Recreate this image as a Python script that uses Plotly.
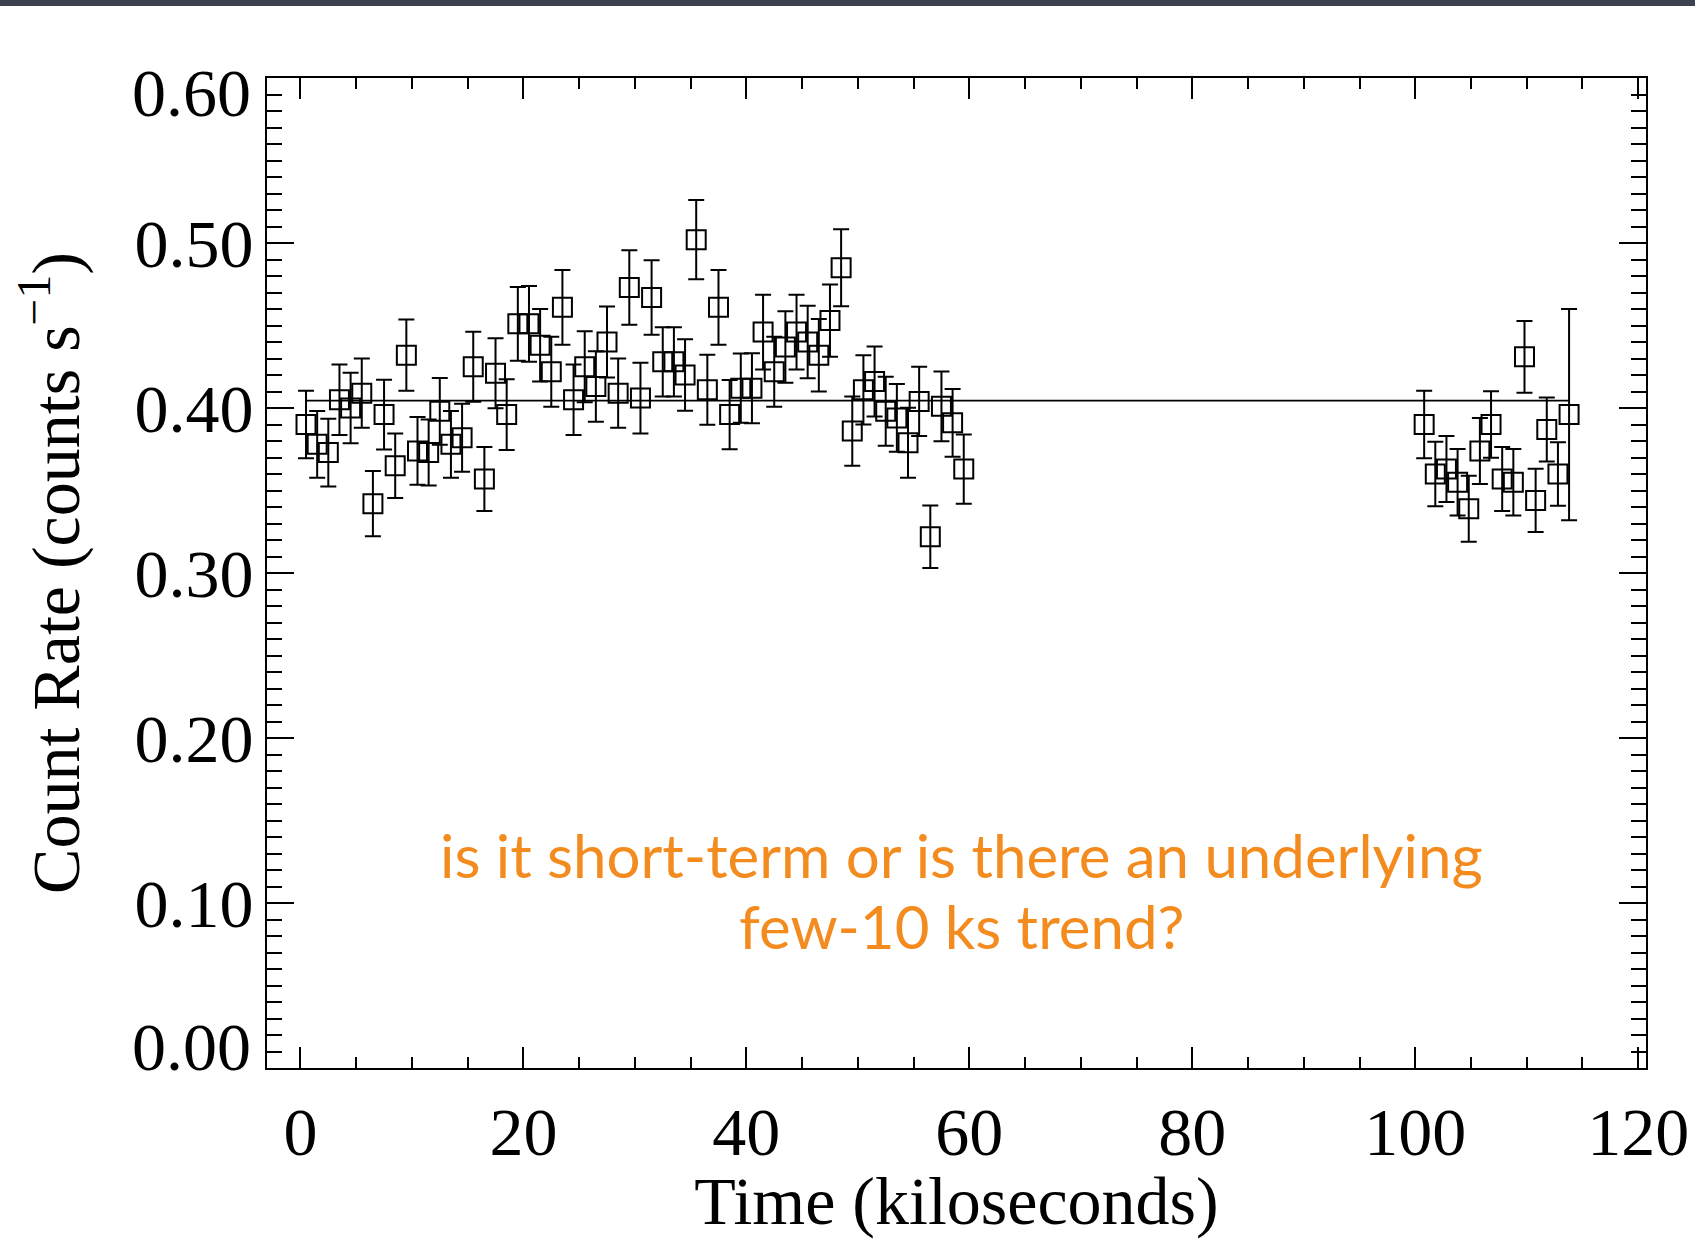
import plotly.graph_objects as go

# Light curve: 1 ks bins, two observation segments
time_ks = [
    0.5, 1.5, 2.5, 3.5, 4.5, 5.5, 6.5, 7.5, 8.5, 9.5,
    10.5, 11.5, 12.5, 13.5, 14.5, 15.5, 16.5, 17.5, 18.5, 19.5,
    20.5, 21.5, 22.5, 23.5, 24.5, 25.5, 26.5, 27.5, 28.5, 29.5,
    30.5, 31.5, 32.5, 33.5, 34.5, 35.5, 36.5, 37.5, 38.5, 39.5,
    40.5, 41.5, 42.5, 43.5, 44.5, 45.5, 46.5, 47.5, 48.5, 49.5,
    50.5, 51.5, 52.5, 53.5, 54.5, 55.5, 56.5, 57.5, 58.5, 59.5,
    100.8, 101.8, 102.8, 103.8, 104.8, 105.8, 106.8,
    107.8, 108.8, 109.8, 110.8, 111.8, 112.8, 113.8,
]
rate = [
    0.390, 0.378, 0.373, 0.405, 0.400, 0.409, 0.342, 0.396, 0.365, 0.432,
    0.374, 0.373, 0.398, 0.378, 0.382, 0.425, 0.357, 0.421, 0.396, 0.451,
    0.451, 0.438, 0.422, 0.461, 0.405, 0.425, 0.413, 0.440, 0.409, 0.473,
    0.406, 0.467, 0.428, 0.428, 0.420, 0.502, 0.411, 0.461, 0.396, 0.412,
    0.412, 0.446, 0.422, 0.437, 0.446, 0.440, 0.432, 0.453, 0.485, 0.386,
    0.411, 0.416, 0.398, 0.394, 0.379, 0.404, 0.322, 0.401, 0.391, 0.363,
    0.390, 0.360, 0.363, 0.355, 0.339, 0.374, 0.390,
    0.357, 0.355, 0.431, 0.344, 0.387, 0.360, 0.396,
]
rate_err = [
    0.0204, 0.0202, 0.0205, 0.0214, 0.0214, 0.0210, 0.0198, 0.0211, 0.0195, 0.0216,
    0.0205, 0.0200, 0.0202, 0.0202, 0.0206, 0.0212, 0.0194, 0.0212, 0.0214, 0.0224,
    0.0229, 0.0220, 0.0212, 0.0227, 0.0214, 0.0215, 0.0214, 0.0215, 0.0210, 0.0226,
    0.0214, 0.0226, 0.0210, 0.0210, 0.0217, 0.0240, 0.0212, 0.0227, 0.0210, 0.0210,
    0.0212, 0.0226, 0.0212, 0.0217, 0.0226, 0.0219, 0.0220, 0.0219, 0.0234, 0.0210,
    0.0210, 0.0212, 0.0209, 0.0205, 0.0212, 0.0210, 0.0189, 0.0211, 0.0205, 0.0210,
    0.0204, 0.0195, 0.0200, 0.0202, 0.0200, 0.0200, 0.0202,
    0.0194, 0.0202, 0.0217, 0.0192, 0.0194, 0.0192, 0.0640,
]
mean_rate = 0.4045

rate_ticks = [0.1, 0.2, 0.3, 0.4, 0.5]
rate_end_ticks = [0.6, 0.0]
x_title = "Time (kiloseconds)"
y_title = "Count Rate (counts s<sup>\u22121</sup>)"
note_lines = ["is it short-term or is there an underlying", "few-10 ks trend?"]

SERIF = "Liberation Serif"
INK = "black"
TICK_SIZE = 68

fig = go.Figure()

# mean count rate across the span of the data
fig.add_trace(go.Scatter(
    x=[time_ks[0], time_ks[-1]], y=[mean_rate, mean_rate],
    mode="lines", line=dict(color=INK, width=1.8),
    hoverinfo="skip", showlegend=False,
))

fig.add_trace(go.Scatter(
    x=time_ks, y=rate, mode="markers",
    marker=dict(symbol="square-open", size=19, color=INK, line=dict(width=2, color=INK)),
    error_y=dict(type="data", array=rate_err, color=INK, thickness=2, width=8),
    showlegend=False,
))

axis_common = dict(
    showline=True, linecolor=INK, linewidth=2, mirror="ticks",
    ticks="inside", tickcolor=INK, tickwidth=2,
    showgrid=False, zeroline=False, automargin=False,
    tickfont=dict(family=SERIF, size=TICK_SIZE, color=INK),
)

fig.update_xaxes(
    **axis_common,
    range=[-3.0, 120.7],
    tickmode="linear", tick0=0, dtick=20, ticklen=21,
    ticklabelstandoff=3,
    minor=dict(tick0=0, dtick=5, ticks="inside", ticklen=11, tickwidth=2, tickcolor=INK),
    title=dict(text=x_title, font=dict(family=SERIF, size=68, color=INK), standoff=16),
)

fig.update_yaxes(
    **axis_common,
    range=[0, 0.6],
    tickmode="array", tickvals=rate_ticks,
    ticktext=[f"{v:.2f}" for v in rate_ticks], ticklen=27,
    ticklabelstandoff=-2,
    minor=dict(tickmode="linear", tick0=0, dtick=0.01, ticks="inside",
               ticklen=15, tickwidth=2, tickcolor=INK),
    title=dict(text=y_title, font=dict(family=SERIF, size=68, color=INK), standoff=33),
)

# end labels of the rate axis sit just inside the frame
for val, shift in zip(rate_end_ticks, [-15, 21]):
    fig.add_annotation(
        x=0, xref="paper", xanchor="right", xshift=-14,
        y=val, yref="y", yanchor="middle", yshift=shift,
        text=f"{val:.2f}", showarrow=False,
        font=dict(family=SERIF, size=TICK_SIZE, color=INK),
    )

# question about the variability
for text, yv in zip(note_lines, [0.129, 0.086]):
    fig.add_annotation(
        x=59.3, y=yv, xref="x", yref="y", text=text, showarrow=False,
        xanchor="center", yanchor="middle",
        font=dict(family="Lato", size=60, color="#F38B1E"),
    )

# slide header strip
fig.add_shape(
    type="rect", xref="paper", yref="paper",
    x0=-0.3, x1=1.2, y0=1.0727, y1=1.09,
    fillcolor="#3d404e", line=dict(width=0), layer="above",
)

fig.update_layout(
    width=1695, height=1239,
    margin=dict(l=267, r=49, t=78, b=171),
    paper_bgcolor="white", plot_bgcolor="white",
    showlegend=False,
)

fig.write_html("out.html")
